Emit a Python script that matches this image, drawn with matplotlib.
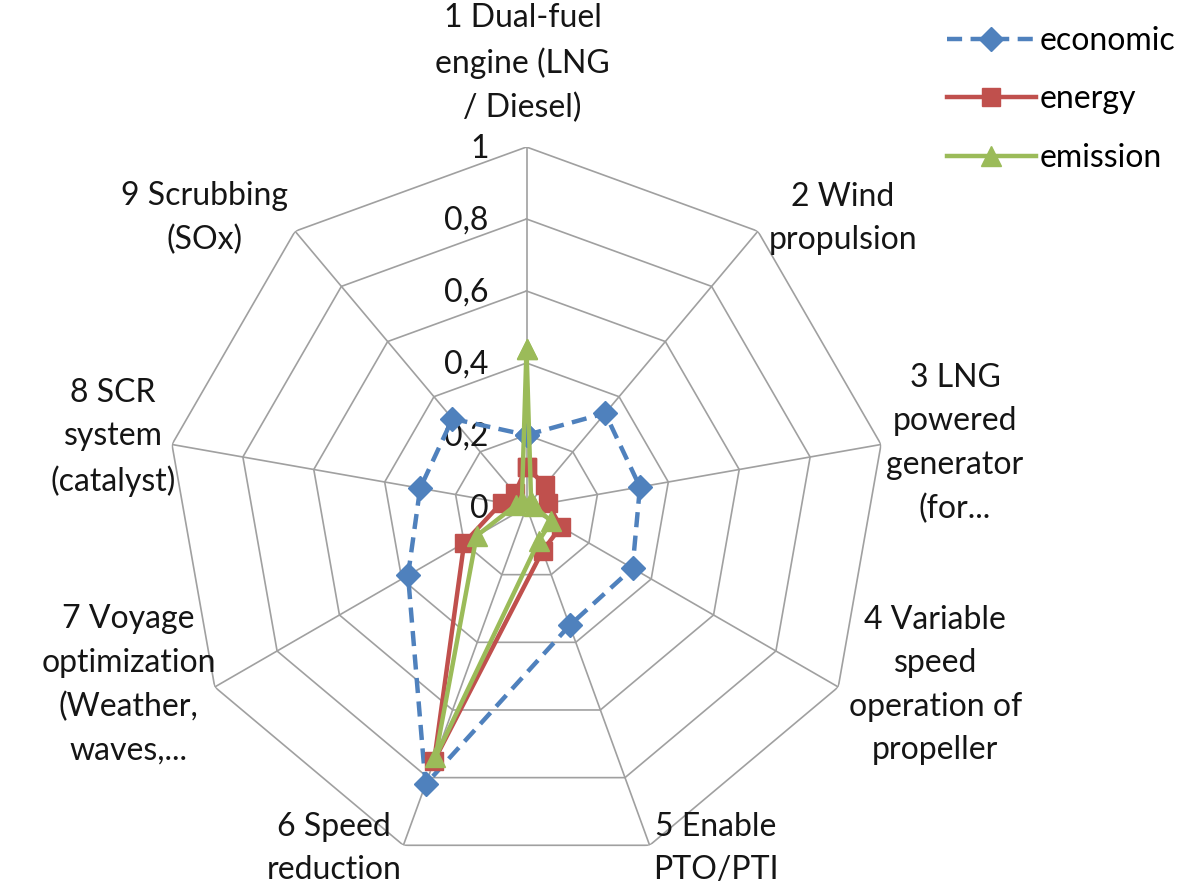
import numpy as np
import matplotlib
matplotlib.use("Agg")
import matplotlib.pyplot as plt

plt.rcParams['font.family'] = ['Lato', 'DejaVu Sans']

categories = ["1 Dual-fuel\nengine (LNG\n/ Diesel)", "2 Wind\npropulsion",
              "3 LNG\npowered\ngenerator\n(for...", "4 Variable\nspeed\noperation of\npropeller",
              "5 Enable\nPTO/PTI", "6 Speed\nreduction",
              "7 Voyage\noptimization\n(Weather,\nwaves,...", "8 SCR\nsystem\n(catalyst)",
              "9 Scrubbing\n(SOx)"]
economic = [0.20, 0.34, 0.32, 0.34, 0.35, 0.82, 0.38, 0.30, 0.32]
energy = [0.11, 0.08, 0.06, 0.11, 0.13, 0.75, 0.20, 0.07, 0.05]
emission = [0.44, 0.02, 0.02, 0.08, 0.10, 0.74, 0.16, 0.03, 0.02]
ticks = [0, 0.2, 0.4, 0.6, 0.8, 1.0]
tick_labels = ["0", "0,2", "0,4", "0,6", "0,8", "1"]

W, H = 1196, 886
fig = plt.figure(figsize=(W / 100, H / 100), dpi=100)
cx, cy, R = 526.5, 886 - 507, 360
ax = fig.add_axes([(cx - R) / W, (cy - R) / H, 2 * R / W, 2 * R / H], projection='polar')
ax.set_theta_zero_location('N')
ax.set_theta_direction(-1)
ax.set_ylim(0, 1)
ax.grid(False)
ax.set_xticks([])
ax.set_yticks([])
ax.spines['polar'].set_visible(False)
ax.patch.set_visible(False)

n = len(categories)
theta = np.arange(n) * 2 * np.pi / n
closed = np.append(theta, theta[0])

gcol = '#A0A0A0'
for t in ticks[1:]:
    ax.plot(closed, [t] * (n + 1), color=gcol, lw=1.2, zorder=1)
for th in theta:
    ax.plot([th, th], [0, 1], color=gcol, lw=1.2, zorder=1)

fs = 23
tcol = '#151515'
for t, lab in zip(ticks, tick_labels):
    ax.annotate(lab, xy=(0, t), xytext=(-38, -2), textcoords='offset pixels',
                ha='right', va='center', fontsize=fs, color=tcol, zorder=2)

offsets = [(-4, 84), (85, 13), (74, 1), (97, 2), (66, -3), (-69, -3), (-86, 2), (-59, 7), (-91, 13)]
for th, lab, off in zip(theta, categories, offsets):
    ax.annotate(lab, xy=(th, 1), xytext=off, textcoords='offset pixels',
                ha='center', va='center', fontsize=fs, color=tcol,
                multialignment='center', linespacing=1.56, annotation_clip=False)

def closed_vals(v):
    return list(v) + [v[0]]

lw = 3.2
ax.plot(closed, closed_vals(economic), color='#4F81BD', lw=lw, ls=(0, (3.4, 1.9)),
        marker='D', markersize=12, label='economic', zorder=3, clip_on=False)
ax.plot(closed, closed_vals(energy), color='#C0504D', lw=lw, marker='s', markersize=13,
        label='energy', zorder=4, clip_on=False)
ax.plot(closed, closed_vals(emission), color='#9BBB59', lw=lw, marker='^', markersize=14,
        label='emission', zorder=5, clip_on=False)

fig.legend(loc='upper left', bbox_to_anchor=(918 / W, 1 + 3 / H), frameon=False,
           fontsize=fs, handlelength=2.8, handletextpad=0.1, labelspacing=0.9)

fig.savefig('out.png', dpi=100, facecolor='white')
